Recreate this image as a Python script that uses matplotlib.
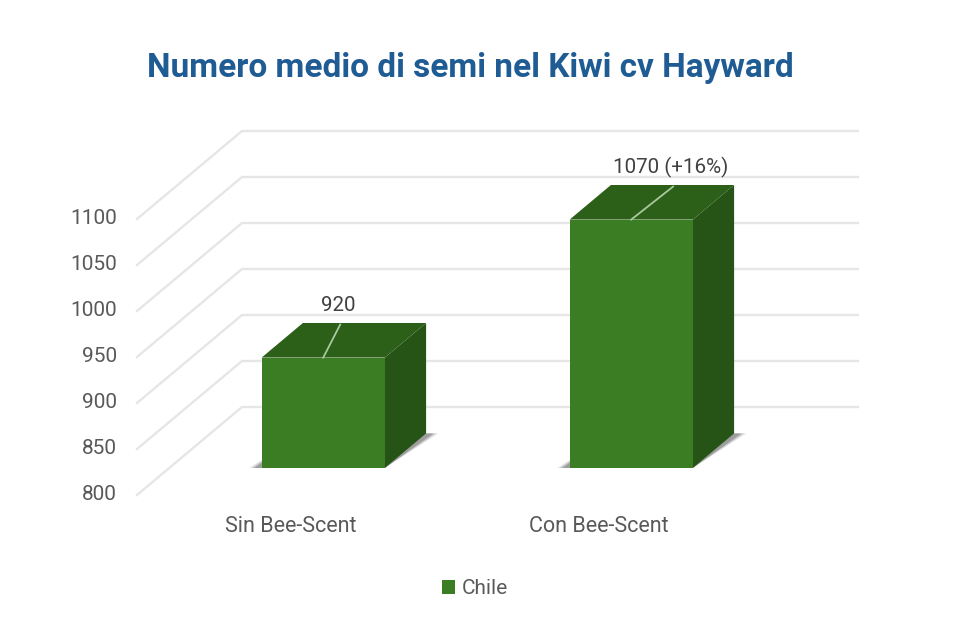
import matplotlib
matplotlib.use('Agg')
import matplotlib.pyplot as plt
from matplotlib.patches import Polygon, Patch

categories = ['Sin Bee-Scent', 'Con Bee-Scent']
values = [920, 1070]
bar_labels = ['920', '1070 (+16%)']
yticks = [800, 850, 900, 950, 1000, 1050, 1100]
series_name = 'Chile'

# fake 3d: the chart plane is sheared back by this much, in data units
depth_x = 105 / 308
depth_y = 88 / 0.92
bar_w = 0.40
bar_near = 0.307
bar_far = 0.70
plane_w = 2.0


def proj(x, v, d):
    # x position, value, depth 0..1 -> data coords on the flat axes
    return x + d * depth_x, v + d * depth_y


def face(pts):
    return [proj(*p) for p in pts]


plt.rcParams['font.family'] = ['Roboto', 'DejaVu Sans']

fig = plt.figure(figsize=(9.6, 6.4), dpi=100)
ax = fig.add_axes([0, 0, 1, 1])
ax.set_xlim(-137 / 308, (960 - 137) / 308)
ax.set_ylim(800 - (640 - 495) / 0.92, 800 + 495 / 0.92)
ax.axis('off')

# grid: diagonal wall line then the back line
for v in yticks:
    xs, ys = zip(proj(0, v, 0), proj(0, v, 1), proj(plane_w, v, 1))
    ax.plot(xs, ys, color='#e6e6e6', lw=1.7, solid_joinstyle='miter', zorder=1)
    ax.text(-20 / 308, v, str(v), ha='right', va='center',
            fontsize=15, color='#595959', zorder=5)

for i, (name, val) in enumerate(zip(categories, values)):
    x0 = i + 0.5 - bar_w / 2
    x1 = i + 0.5 + bar_w / 2

    # soft shadow on the floor, a few layers to blur it
    for grow, alpha in [(0.04, 0.15), (0.032, 0.22), (0.024, 0.35)]:
        pts = [(x0 - grow, 800, bar_near), (x1, 800, bar_near),
               (x1 + grow, 800, bar_far), (x0, 800, bar_far)]
        ax.add_patch(Polygon(face(pts), fc='#555555', ec='none', alpha=alpha, zorder=2))

    side = [(x1, 800, bar_near), (x1, 800, bar_far), (x1, val, bar_far), (x1, val, bar_near)]
    top = [(x0, val, bar_near), (x1, val, bar_near), (x1, val, bar_far), (x0, val, bar_far)]
    front = [(x0, 800, bar_near), (x1, 800, bar_near), (x1, val, bar_near), (x0, val, bar_near)]
    ax.add_patch(Polygon(face(side), fc='#265416', ec='none', zorder=3))
    ax.add_patch(Polygon(face(top), fc='#2c5f18', ec='none', zorder=3))
    ax.add_patch(Polygon(face(front), fc='#3a7d23', ec='none', zorder=4))

    # category label sits under the plane
    ax.text(i + 0.5, 800 - 31 / 0.92, name, ha='center', va='center',
            fontsize=15.5, color='#595959')

# leader lines and data labels, positions differ per bar
leader_shift = [0.055, 0.136]
label_shift = [0.05, 0.127]
for i, (val, lab) in enumerate(zip(values, bar_labels)):
    x_a, y_a = proj(i + 0.5, val, bar_near)
    x_b, y_b = x_a + leader_shift[i], y_a + 33 / 0.92
    ax.plot([x_a, x_b], [y_a, y_b], color='#a9c9a0', lw=1.3, zorder=6)
    ax.text(x_a + label_shift[i], y_b + 19 / 0.92, lab, ha='center', va='center',
            fontsize=14.8, color='#404040', zorder=7)

ax.text(470 / 308 - 137 / 308, 800 + (495 - 68) / 0.92, 'Numero medio di semi nel Kiwi cv Hayward',
        ha='center', va='center', fontsize=24, fontweight='bold', color='#1f5c94')

ax.legend(handles=[Patch(fc='#3a7d23', ec='none', label=series_name)],
          loc='center', bbox_to_anchor=(475 / 960, 1 - 589 / 640), frameon=False,
          fontsize=15, labelcolor='#595959', handlelength=0.62, handleheight=0.62,
          handletextpad=0.3)

fig.savefig('out.png', dpi=100)
